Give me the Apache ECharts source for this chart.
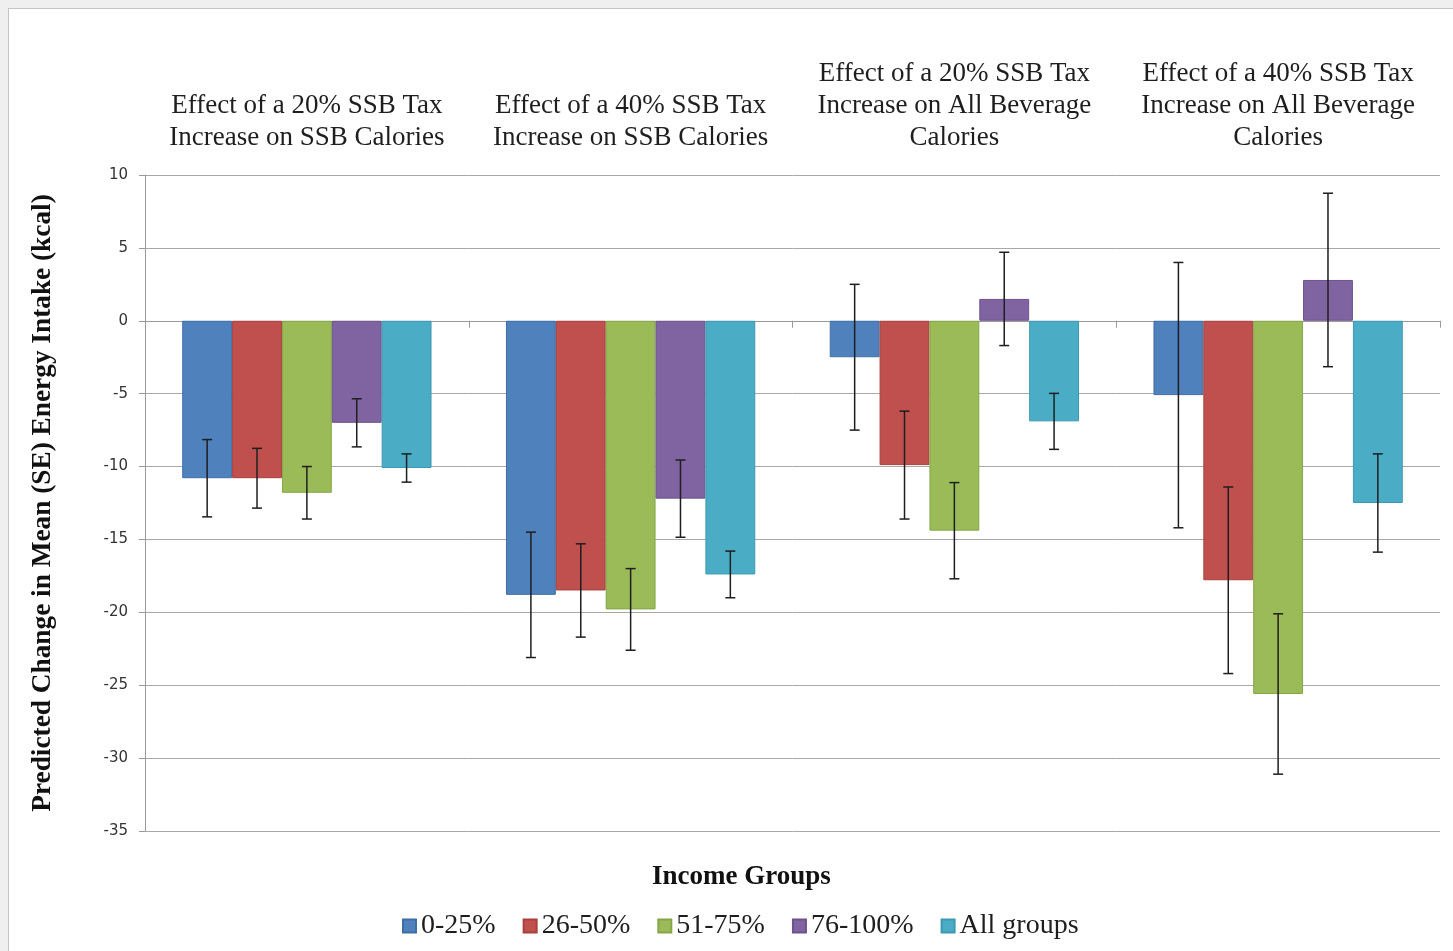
<!DOCTYPE html>
<html>
<head>
<meta charset="utf-8">
<script src="https://cdn.jsdelivr.net/npm/echarts@6/dist/echarts.min.js"></script>
<style>
  html, body { margin: 0; padding: 0; width: 1453px; height: 951px; overflow: hidden; background: #efefef; }
  #frame { position: absolute; left: 8px; top: 8px; width: 1470px; height: 970px; background: #ffffff; border: 1px solid #c4c4c4; }
  #chart { position: absolute; left: 0; top: 0; width: 1453px; height: 951px; }
</style>
</head>
<body>
<div id="frame"></div>
<div id="chart"></div>
<script>
// Policy scenarios (one cluster of bars each)
const categories = [
  'Effect of a 20% SSB Tax\nIncrease on SSB Calories',
  'Effect of a 40% SSB Tax\nIncrease on SSB Calories',
  'Effect of a 20% SSB Tax\nIncrease on All Beverage\nCalories',
  'Effect of a 40% SSB Tax\nIncrease on All Beverage\nCalories'
];

// Income groups
const groupNames = ['0-25%', '26-50%', '51-75%', '76-100%', 'All groups'];

// Predicted mean change in energy intake (kcal), per income group across scenarios
const mean025   = [-10.8, -18.8,  -2.5,  -5.1];
const mean2650  = [-10.8, -18.5,  -9.9, -17.8];
const mean5175  = [-11.8, -19.8, -14.4, -25.6];
const mean76100 = [ -7.0, -12.2,   1.5,   2.8];
const meanAll   = [-10.1, -17.4,  -6.9, -12.5];

// Standard errors drawn as whiskers
const se025   = [2.65, 4.3, 5.0, 9.1];
const se2650  = [2.05, 3.2, 3.7, 6.4];
const se5175  = [1.8,  2.8, 3.3, 5.5];
const se76100 = [1.65, 2.65, 3.2, 5.95];
const seAll   = [0.97, 1.6, 1.92, 3.37];

const yTicks = [10, 5, 0, -5, -10, -15, -20, -25, -30, -35];

const means = [mean025, mean2650, mean5175, mean76100, meanAll];
const ses = [se025, se2650, se5175, se76100, seAll];
const colors = ['#4F81BD', '#C0504D', '#9BBB59', '#8064A2', '#4BACC6'];
const borders = ['#3f6ea6', '#a8403d', '#86a64a', '#6c528c', '#3c98b0'];

const CAT_GAP = 0.23;
const nSeries = means.length;

// Whisker (mean ± SE) placed over the matching bar inside its cluster
function errorRenderer(seriesIdx) {
  return function (params, api) {
    const ci = api.value(0);
    const m = api.value(1);
    const s = api.value(2);
    const band = api.size([1, 0])[0];
    const bw = band * (1 - CAT_GAP) / nSeries;
    const center = api.coord([ci, m]);
    const x = center[0] + (seriesIdx - (nSeries - 1) / 2) * bw;
    const yHi = api.coord([ci, m + s])[1];
    const yLo = api.coord([ci, m - s])[1];
    const cap = 5;
    const style = { stroke: '#1e1e1e', lineWidth: 1.5 };
    return {
      type: 'group',
      children: [
        { type: 'line', shape: { x1: x, y1: yHi, x2: x, y2: yLo }, style },
        { type: 'line', shape: { x1: x - cap, y1: yHi, x2: x + cap, y2: yHi }, style },
        { type: 'line', shape: { x1: x - cap, y1: yLo, x2: x + cap, y2: yLo }, style }
      ]
    };
  };
}

const series = [];
means.forEach((vals, i) => {
  series.push({
    name: groupNames[i],
    type: 'bar',
    data: vals,
    barGap: '0%',
    barCategoryGap: (CAT_GAP * 100) + '%',
    itemStyle: { color: colors[i], borderColor: borders[i], borderWidth: 1 },
    z: 2
  });
});
means.forEach((vals, i) => {
  series.push({
    type: 'custom',
    name: groupNames[i] + ' SE',
    renderItem: errorRenderer(i),
    data: vals.map((v, k) => [k, v, ses[i][k]]),
    encode: { x: 0, y: 1 },
    z: 5,
    silent: true
  });
});

const serif = '"Liberation Serif", "Times New Roman", serif';

const chart = echarts.init(document.getElementById('chart'), null, { renderer: 'canvas' });
chart.setOption({
  animation: false,
  grid: { left: 145, right: 13, top: 175, bottom: 120, containLabel: false },
  legend: {
    data: groupNames,
    left: 397,
    top: 907,
    itemWidth: 13,
    itemHeight: 13,
    itemGap: 27,
    icon: 'rect',
    textStyle: { fontFamily: serif, fontSize: 28, color: '#1e1e1e' }
  },
  graphic: [
    {
      type: 'text',
      left: 652,
      top: 864,
      style: { text: 'Income Groups', font: 'bold 27px ' + serif, fill: '#111' }
    }
  ],
  xAxis: [
    {
      type: 'category',
      data: categories,
      position: 'bottom',
      axisLine: { onZero: true, lineStyle: { color: '#9a9a9a', width: 1 } },
      axisTick: { show: true, length: 7, lineStyle: { color: '#9a9a9a' } },
      axisLabel: { show: false },
      splitLine: { show: false }
    },
    {
      type: 'category',
      data: categories,
      position: 'top',
      axisLine: { show: false },
      axisTick: { show: false },
      axisLabel: {
        interval: 0,
        margin: 21,
        fontFamily: serif,
        fontSize: 27,
        lineHeight: 32,
        color: '#1e1e1e',
        align: 'center'
      }
    }
  ],
  yAxis: {
    type: 'value',
    min: -35,
    max: 10,
    interval: 5,
    name: 'Predicted Change in Mean (SE) Energy Intake (kcal)',
    nameLocation: 'middle',
    nameGap: 89,
    nameTextStyle: { fontFamily: serif, fontWeight: 'bold', fontSize: 27.3, color: '#111' },
    axisLine: { show: true, lineStyle: { color: '#9a9a9a' } },
    axisTick: { show: true, inside: false, length: 6, lineStyle: { color: '#9a9a9a' } },
    axisLabel: {
      margin: 17,
      fontFamily: '"DejaVu Sans", Verdana, sans-serif',
      fontSize: 15,
      color: '#333',
      formatter: v => (yTicks.indexOf(v) >= 0 ? String(v) : '')
    },
    splitLine: { show: true, lineStyle: { color: '#a8a8a8', width: 1 } }
  },
  series
});
</script>
</body>
</html>
